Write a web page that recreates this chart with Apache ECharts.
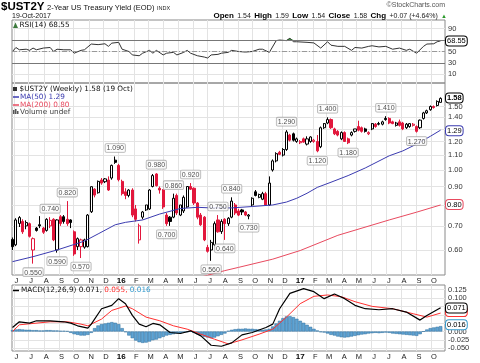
<!DOCTYPE html>
<html><head><meta charset="utf-8">
<script src="https://cdn.jsdelivr.net/npm/echarts@6/dist/echarts.min.js"></script>
<style>html,body{margin:0;padding:0;background:#fff}#c{width:480px;height:363px}</style>
</head><body><div id="c"></div>
<script>
// ---------- DATA ----------
const firstWeek = [2015, 4, 29]; // weekly bars, first week (Fri 29 May 2015)
const opens  = [.642,.620,.711,.720,.700,.710,.600,.690,.705,.690,.680,.700,.730,.600,.742,.742,.730,.727,.674,.613,
 .613,.611,.613,.766,.885,.865,.938,.928,.938,.950,1.065,1.030,.930,.870,.850,.880,.780,.640,.740,.775,
 .780,.900,.975,.890,.880,.750,.740,.740,.850,.750,.770,.790,.900,.890,.810,.750,.740,.610,.600,.620,
 .727,.675,.730,.710,.740,.800,.770,.775,.765,.745,.800,.870,.840,.830,.860,.800,1.000,1.060,1.120,1.100,
 1.140,1.250,1.260,1.200,1.190,1.220,1.180,1.200,1.200,1.200,1.160,1.310,1.350,1.380,1.300,1.280,1.220,1.270,1.220,1.250,
 1.280,1.320,1.310,1.300,1.260,1.300,1.340,1.345,1.340,1.390,1.390,1.360,1.330,1.360,1.350,1.310,1.320,1.330,1.320,1.310,
 1.390,1.440,1.470,1.500,1.510,1.540];
const highs  = [.650,.735,.745,.730,.725,.715,.650,.695,.745,.695,.735,.740,.735,.730,.750,.750,.820,.730,.680,.650,
 .645,.645,.755,.900,.890,.935,.950,.950,.960,1.035,1.090,1.040,.940,.890,.885,.890,.800,.710,.770,.800,
 .885,.975,.980,.900,.885,.760,.745,.860,.860,.800,.850,.900,.920,.895,.815,.760,.745,.620,.640,.720,
 .750,.730,.735,.740,.840,.810,.780,.780,.770,.755,.840,.880,.860,.870,.870,.960,1.070,1.120,1.130,1.150,
 1.290,1.260,1.270,1.230,1.210,1.230,1.240,1.240,1.220,1.250,1.320,1.350,1.400,1.390,1.310,1.290,1.280,1.280,1.230,1.280,
 1.300,1.370,1.320,1.310,1.280,1.350,1.350,1.360,1.370,1.410,1.400,1.370,1.360,1.380,1.360,1.350,1.350,1.350,1.330,1.380,
 1.450,1.470,1.510,1.510,1.560,1.590];
const lows   = [.600,.615,.695,.665,.685,.650,.550,.675,.690,.665,.675,.690,.635,.590,.700,.710,.700,.690,.578,.600,
 .570,.605,.610,.760,.840,.860,.910,.920,.875,.940,1.040,.930,.850,.830,.840,.740,.720,.625,.730,.770,
 .775,.895,.900,.860,.780,.700,.700,.735,.750,.745,.760,.785,.880,.800,.730,.700,.635,.590,.560,.615,
 .670,.665,.640,.700,.735,.750,.745,.750,.745,.730,.795,.845,.835,.825,.800,.795,.990,1.050,1.100,1.090,
 1.130,1.200,1.200,1.190,1.180,1.190,1.170,1.190,1.190,1.120,1.150,1.300,1.340,1.300,1.250,1.240,1.210,1.200,1.180,1.240,
 1.270,1.280,1.270,1.270,1.250,1.290,1.310,1.330,1.330,1.370,1.340,1.340,1.320,1.320,1.290,1.300,1.310,1.320,1.270,1.300,
 1.380,1.430,1.460,1.480,1.500,1.540];
const closes = [.613,.727,.738,.674,.715,.655,.645,.680,.700,.672,.730,.725,.640,.727,.711,.720,.710,.715,.585,.645,
 .640,.640,.750,.899,.852,.930,.920,.945,.880,1.030,1.050,.940,.860,.850,.880,.750,.730,.700,.765,.800,
 .880,.965,.905,.880,.790,.710,.720,.835,.760,.800,.840,.900,.885,.810,.740,.705,.640,.595,.630,.710,
 .674,.720,.710,.735,.820,.760,.750,.765,.750,.750,.835,.850,.855,.860,.800,.920,1.060,1.110,1.105,1.140,
 1.275,1.210,1.210,1.220,1.200,1.195,1.220,1.235,1.210,1.130,1.310,1.345,1.380,1.310,1.260,1.250,1.270,1.200,1.190,1.270,
 1.300,1.290,1.280,1.280,1.270,1.345,1.320,1.340,1.360,1.380,1.350,1.345,1.350,1.330,1.300,1.340,1.345,1.340,1.280,1.375,
 1.440,1.460,1.500,1.490,1.550,1.580];
// [week index, value]
const ma50 = [[0,.557],[6,.575],[13,.600],[21,.635],[25,.665],[30,.705],[33,.716],[38,.727],[43,.755],[49,.782],
 [54,.788],[58,.785],[64,.785],[70,.792],[76,.800],[80,.815],[83,.835],[86,.862],[89,.895],[93,.925],[98,.965],
 [103,1.013],[110,1.095],[114,1.13],[118,1.18],[122,1.24],[125,1.29]];
const ma200 = [[50,.490],[55,.505],[62,.526],[66,.537],[76,.566],[84,.598],[95,.659],[110,.727],[118,.764],[125,.80]];
const rsi = [[0,50],[1,57],[2,53],[4,54],[5,52],[6,56],[7,53],[9,56],[11,57],[12,50],[13,54],[15,53],[17,53],[18,47],
 [20,52],[21,53],[23,63],[25,62],[27,63.5],[28,59],[29,64.6],[31,66],[32,54],[34,50],[35,44],[37,42.6],[38,47],[40,52],
 [41,47],[42,52],[44,44],[45,47],[47,48.5],[48,44],[50,48.5],[51,52],[52,47],[54,42.6],[56,40.3],[57,38.6],[58,44],
 [60,45],[61,47],[63,48.5],[64,52],[66,50],[68,49],[70,50],[72,54],[73,54],[75,48.5],[77,69],[78,70],[80,69],[81,73.3],
 [82,67],[83,67],[86,66],[88,65],[90,56],[92,67],[93,61],[95,59],[97,59],[99,52],[100,57],[102,56],[104,59],[105,60],
 [107,58],[109,59],[111,54],[113,56],[115,52],[116,54],[118,47],[120,59],[121,63],[123,63.5],[124,67],[125,68.55]];
const macd = [[0,.012],[2,.029],[5,.025],[7,.032],[11,.032],[15,.029],[17,.025],[19,.017],[22,.010],[23,.022],[26,.068],
 [29,.078],[31,.098],[33,.083],[35,.048],[37,.022],[39,.014],[41,.024],[43,.020],[46,-.003],[49,-.006],[52,.002],
 [55,-.013],[58,-.041],[61,-.044],[64,-.034],[67,-.010],[70,-.003],[74,.012],[76,.022],[78,.068],[81,.114],[85,.128],
 [88,.119],[91,.098],[94,.112],[97,.098],[100,.078],[103,.068],[107,.065],[111,.068],[115,.058],[119,.034],[121,.048],[125,.071]];
const signal = [[0,.000],[2,.020],[6,.024],[11,.029],[16,.029],[20,.022],[22,.017],[26,.037],[29,.063],[33,.076],[35,.068],
 [39,.043],[43,.032],[47,.017],[51,.007],[55,-.008],[59,-.023],[63,-.037],[67,-.025],[72,-.008],[76,.007],[80,.043],
 [84,.083],[88,.105],[92,.109],[96,.104],[100,.089],[105,.075],[111,.068],[117,.053],[121,.043],[125,.055]];
const hist = [.004,.006,.007,.006,.005,.005,.004,.004,.003,.003,.004,.004,.003,.003,.002,.002,.001,
 -.004,-.008,-.010,-.012,-.012,-.010,-.004,
 .010,.018,.022,.024,.026,.028,.026,.022,.010,-.002,
 -.012,-.020,-.027,-.032,-.034,-.033,-.030,-.026,-.024,-.020,-.016,-.012,-.010,
 -.008,-.006,-.005,-.003,-.002,.000,
 -.004,-.008,-.012,-.016,-.018,-.020,-.018,-.014,-.010,-.006,
 .002,.005,.007,.008,.008,.009,.008,.008,.007,.006,.005,.006,.008,
 .015,.024,.032,.040,.045,.046,.043,.038,.032,
 .026,.020,.014,.008,.003,-.002,
 -.003,-.006,-.010,-.012,-.015,-.017,-.018,-.017,-.015,-.013,
 -.011,-.009,-.008,-.006,-.005,-.004,-.005,-.004,-.003,-.004,-.006,-.007,-.008,-.009,-.010,-.011,-.012,
 -.013,-.008,.000,.006,.010,.012,.014,.016];
const annotations = [[6,.550,'b'],[11,.740,'t'],[13,.590,'b'],[16,.820,'t'],[20,.570,'b'],[30,1.090,'t'],[42,.980,'t'],
 [45,.700,'b'],[47,.860,'t'],[52,.920,'t'],[58,.560,'b'],[60,.750,'t'],[62,.640,'b'],[64,.840,'t'],[69,.730,'b'],
 [80,1.290,'t'],[89,1.120,'b'],[92,1.400,'t'],[98,1.180,'b'],[109,1.410,'t'],[118,1.270,'b']];
const priceTicks = [0.6,0.7,0.8,0.9,1.0,1.1,1.2,1.3,1.4,1.5];
const rsiTicks = [10,30,50,70,90];
const macdTicks = [-0.05,-0.025,0,0.025,0.05,0.075,0.1,0.125];
const monthLetters = ['J','F','M','A','M','J','J','A','S','O','N','D'];
const quote = {open:'1.54', high:'1.59', low:'1.54', close:'1.58', chg:'+0.07 (+4.64%)'};

// ---------- BUILD ----------
const DAY = 86400000;
const t0 = Date.UTC(firstWeek[0], firstWeek[1], firstWeek[2]);
const wk = i => t0 + i * 7 * DAY;
const tMin = t0 - DAY, tMax = wk(closes.length - 1) + 9 * DAY;
const monthStarts = [];
{ let y = 2015, m = 5; while (Date.UTC(y, m, 1) < tMax) { monthStarts.push(Date.UTC(y, m, 1)); m++; if (m > 11) { m = 0; y++; } } }
const RED = '#e2173c', BLUE = '#3b3bb0', MRED = '#e84a5f';
const FONT = 'DejaVu Sans';
const L = Math.log;
const last = a => a[a.length - 1];

const candles = closes.map((c, i) => {
  const o = opens[i];
  const up = c >= o, above = i === 0 || c >= closes[i - 1];
  const fill = up ? '#fff' : (above ? '#000' : RED);
  const border = above ? '#000' : RED;
  return { value: [wk(i), L(o), L(c), L(lows[i]), L(highs[i])],
    itemStyle: { color: fill, color0: fill, borderColor: border, borderColor0: border } };
});

const grids = [
  { left: 12, right: 35, top: 20, height: 63 },
  { left: 12, right: 35, top: 83, height: 192 },
  { left: 12, right: 35, top: 285, height: 66 }
].map(g => Object.assign(g, { show: true, borderColor: '#8a8a8a', borderWidth: 1 }));

const xAxes = [0, 1, 2].map(g => ({
  type: 'value', gridIndex: g, min: tMin, max: tMax, scale: true,
  axisLine: { show: false }, axisTick: { show: false, customValues: monthStarts },
  splitLine: { show: true, lineStyle: { color: '#e3e3e3', width: 1 } },
  axisLabel: { show: g > 0, customValues: monthStarts, margin: 2, padding: [0, 0, 0, 5],
    fontSize: 7.5, fontFamily: 'Liberation Sans', color: '#222',
    formatter: v => { const d = new Date(v); const m = d.getUTCMonth();
      return m === 0 ? '{y|' + String(d.getUTCFullYear()).slice(2) + '}' : monthLetters[m]; },
    rich: { y: { fontWeight: 'bold', fontSize: 8, fontFamily: 'Liberation Sans', color: '#000' } } }
}));

const yLab = { fontSize: 7.5, fontFamily: 'Liberation Sans', color: '#333', margin: 3 };
const yAxes = [
  { type: 'value', gridIndex: 0, position: 'right', min: -5, max: 105,
    axisLine: { show: false }, axisTick: { show: false, customValues: rsiTicks },
    axisLabel: Object.assign({ customValues: rsiTicks }, yLab),
    splitLine: { lineStyle: { color: '#e3e3e3' } } },
  { type: 'value', gridIndex: 1, position: 'right', min: L(0.5115), max: L(1.743),
    axisLine: { show: false }, axisTick: { show: false, customValues: priceTicks.map(L) },
    axisLabel: Object.assign({ customValues: priceTicks.map(L), formatter: v => Math.exp(v).toFixed(2) }, yLab),
    splitLine: { lineStyle: { color: '#e3e3e3' } } },
  { type: 'value', gridIndex: 2, position: 'right', min: -0.0582, max: 0.1388,
    axisLine: { show: false }, axisTick: { show: false, customValues: macdTicks },
    axisLabel: Object.assign({ customValues: macdTicks, formatter: v => v.toFixed(3) }, yLab),
    splitLine: { lineStyle: { color: '#e3e3e3' } } }
];

const boxLabel = (text, border, bold) => ({
  show: true, position: 'end', distance: 1, formatter: text,
  backgroundColor: '#fff', borderColor: border, borderWidth: 1, borderRadius: 3,
  padding: [1, 1, 0, 1], fontSize: 7.5, fontFamily: 'Liberation Sans', color: '#000',
  fontWeight: bold ? 'bold' : 'normal'
});
const valueBox = (y, text, border, bold) => ({
  silent: true, symbol: ['none', 'none'], animation: false,
  lineStyle: { color: 'rgba(0,0,0,0)', width: 0 },
  data: [{ yAxis: y, label: boxLabel(text, border, bold) }]
});

const sparse = (arr, f) => arr.map(([i, v]) => [wk(i), f ? f(v) : v]);

const series = [
  { type: 'candlestick', xAxisIndex: 1, yAxisIndex: 1, barWidth: 2.6, silent: true,
    dimensions: ['t', 'open', 'close', 'lowest', 'highest'],
    encode: { x: 't', y: ['open', 'close', 'lowest', 'highest'] },
    itemStyle: { borderWidth: 1 }, data: candles,
    markLine: valueBox(L(last(closes)), last(closes).toFixed(2), '#000', true) },
  { type: 'line', xAxisIndex: 1, yAxisIndex: 1, data: sparse(ma50, L), symbol: 'none', silent: true,
    lineStyle: { color: BLUE, width: 1 }, z: 3,
    markLine: valueBox(L(last(ma50)[1]), last(ma50)[1].toFixed(2), BLUE) },
  { type: 'line', xAxisIndex: 1, yAxisIndex: 1, data: sparse(ma200, L), symbol: 'none', silent: true,
    lineStyle: { color: MRED, width: 1 }, z: 3,
    markLine: valueBox(L(last(ma200)[1]), last(ma200)[1].toFixed(2), MRED) },
  { type: 'scatter', xAxisIndex: 1, yAxisIndex: 1, symbolSize: 1, silent: true, z: 5,
    itemStyle: { color: 'rgba(0,0,0,0)' },
    data: annotations.map(([i, v, p]) => ({ value: [wk(i), L(v)],
      label: { show: true, position: p === 't' ? 'top' : 'bottom', distance: 4, formatter: v.toFixed(3),
        backgroundColor: '#fff', borderColor: '#a0a0a0', borderWidth: 0.8, borderRadius: 1,
        padding: [1, 1, 0, 1], fontSize: 7, fontFamily: 'Liberation Sans', color: '#222' } })) },
  // RSI
  { type: 'line', xAxisIndex: 0, yAxisIndex: 0, data: sparse(rsi, v => Math.max(v, 70)), symbol: 'none', silent: true,
    lineStyle: { width: 0 }, areaStyle: { origin: 70, color: '#3d9a3d', opacity: 1 }, z: 1 },
  { type: 'line', xAxisIndex: 0, yAxisIndex: 0, data: sparse(rsi), symbol: 'none', silent: true,
    lineStyle: { color: '#333', width: 1 }, z: 3,
    markLine: { silent: true, symbol: ['none', 'none'], label: { show: false },
      data: [
        { yAxis: 70, lineStyle: { color: '#777', width: 1, type: 'solid' } },
        { yAxis: 30, lineStyle: { color: '#777', width: 1, type: 'solid' } },
        { yAxis: 50, lineStyle: { color: '#999', width: 1, type: [5, 2, 1, 2] } },
        { yAxis: last(rsi)[1], lineStyle: { color: 'rgba(0,0,0,0)', width: 0 }, label: boxLabel(last(rsi)[1].toFixed(2), '#000') }
      ] } },
  // MACD
  { type: 'bar', xAxisIndex: 2, yAxisIndex: 2, barWidth: 3.4, silent: true,
    data: hist.map((v, i) => [wk(i), v]),
    itemStyle: { color: '#5fa3d3', borderColor: '#2b6c9c', borderWidth: 0.5 },
    markLine: valueBox(last(hist), last(hist).toFixed(3), '#3399cc') },
  { type: 'line', xAxisIndex: 2, yAxisIndex: 2, data: sparse(signal), symbol: 'none', silent: true,
    lineStyle: { color: '#ff3030', width: 1 }, z: 3,
    markLine: valueBox(last(signal)[1], last(signal)[1].toFixed(3), '#ff3030') },
  { type: 'line', xAxisIndex: 2, yAxisIndex: 2, data: sparse(macd), symbol: 'none', silent: true,
    lineStyle: { color: '#000', width: 1.2 }, z: 4,
    markLine: valueBox(last(macd)[1], last(macd)[1].toFixed(3), '#000') }
];

const txt = (x, y, text, font, fill, extra) => ({ type: 'text', x, y, silent: true, z: 100,
  style: Object.assign({ text, font, fill, textVerticalAlign: 'middle' }, extra || {}) });
const f75 = '7.3px "' + FONT + '"';
const graphic = [
  txt(1, 7, '$UST2Y', 'bold 11.5px "Liberation Sans"', '#000'),
  txt(47, 7.5, '2-Year US Treasury Yield (EOD)', '7.5px "Liberation Sans"', '#111'),
  txt(157, 8, 'INDX', '5.5px "Liberation Sans"', '#222'),
  txt(12, 16, '19-Oct-2017', '7px "Liberation Sans"', '#111'),
  txt(445, 5.5, '\u00A9StockCharts.com', '7px "Liberation Sans"', '#555', { textAlign: 'right' }),
  { type: 'text', x: 447, y: 16, silent: true, z: 100, style: {
    text: '{b|Open} {v|' + quote.open + '} {b|High} {v|' + quote.high + '} {b|Low} {v|' + quote.low +
      '} {b|Close} {v|' + quote.close + '} {b|Chg} {v|' + quote.chg + '} {g|\u25B2}',
    textAlign: 'right', textVerticalAlign: 'middle',
    rich: { b: { font: 'bold 8px "Liberation Sans"', fill: '#000' },
            v: { font: '7px "Liberation Sans"', fill: '#222' },
            g: { font: '6px "Liberation Sans"', fill: '#2a9a2a' } } } },
  { type: 'polygon', silent: true, z: 100, shape: { points: [[13, 28], [15.5, 22.5], [18, 28]] }, style: { fill: '#3d7a3d' } },
  txt(19.5, 25, 'RSI(14) ' + last(rsi)[1].toFixed(2), f75, '#111'),
  { type: 'rect', silent: true, z: 100, shape: { x: 13, y: 87, width: 4, height: 4 }, style: { fill: '#333' } },
  txt(19.5, 89, '$UST2Y (Weekly) ' + last(closes).toFixed(2) + ' (19 Oct)', f75, '#111'),
  { type: 'line', silent: true, z: 100, shape: { x1: 13, y1: 97, x2: 19, y2: 97 }, style: { stroke: BLUE, lineWidth: 1.5 } },
  txt(20, 97, 'MA(50) ' + last(ma50)[1].toFixed(2), f75, BLUE),
  { type: 'line', silent: true, z: 100, shape: { x1: 13, y1: 105, x2: 19, y2: 105 }, style: { stroke: MRED, lineWidth: 1.5 } },
  txt(20, 105, 'MA(200) ' + last(ma200)[1].toFixed(2), f75, MRED),
  { type: 'rect', silent: true, z: 100, shape: { x: 13, y: 110, width: 1.5, height: 4 }, style: { fill: '#555' } },
  { type: 'rect', silent: true, z: 100, shape: { x: 15, y: 109, width: 1.5, height: 5 }, style: { fill: '#555' } },
  { type: 'rect', silent: true, z: 100, shape: { x: 17, y: 111, width: 1.5, height: 3 }, style: { fill: '#555' } },
  txt(20, 112.5, 'Volume undef', f75, '#444'),
  { type: 'line', silent: true, z: 100, shape: { x1: 13, y1: 290.5, x2: 19, y2: 290.5 }, style: { stroke: '#000', lineWidth: 1.5 } },
  { type: 'text', x: 21, y: 290.5, silent: true, z: 100, style: {
    text: '{k|MACD(12,26,9) ' + last(macd)[1].toFixed(3) + ', }{r|' + last(signal)[1].toFixed(3) + ', }{c|' + last(hist).toFixed(3) + '}',
    textVerticalAlign: 'middle',
    rich: { k: { font: f75, fill: '#111' }, r: { font: f75, fill: '#ff3030' }, c: { font: f75, fill: '#3399cc' } } } }
];

const chart = echarts.init(document.getElementById('c'), null, { renderer: 'canvas' });
chart.setOption({ animation: false, backgroundColor: '#fff', grid: grids, xAxis: xAxes, yAxis: yAxes, series, graphic });
</script></body></html>
